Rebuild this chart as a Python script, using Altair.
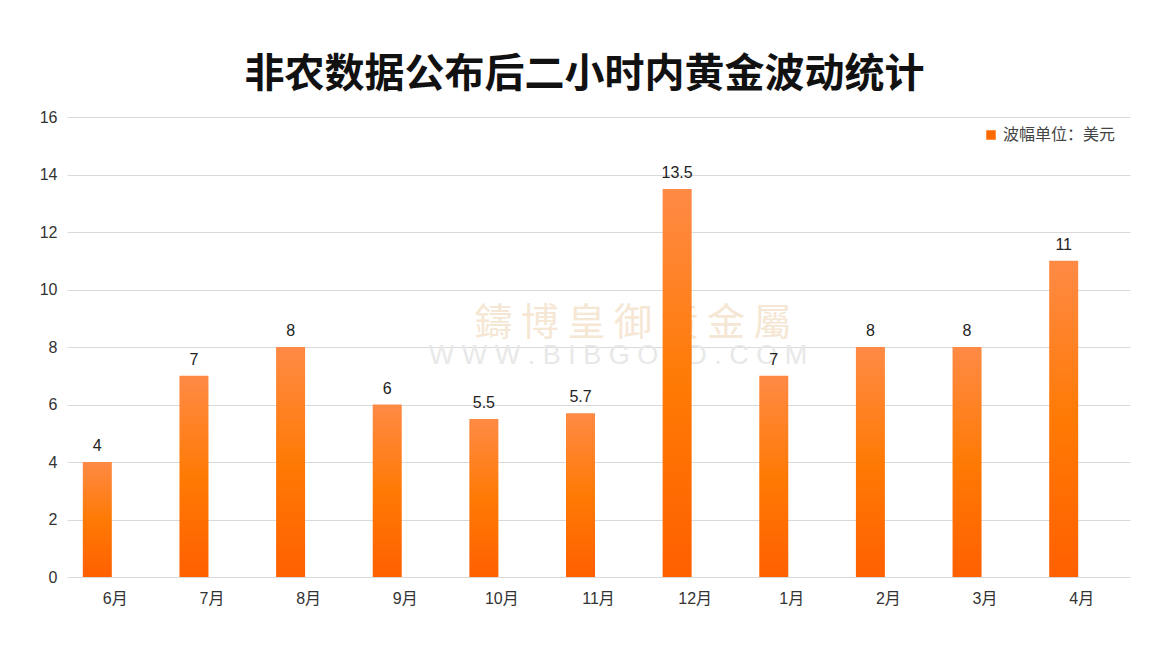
import altair as alt
import pandas as pd

months = ["6月", "7月", "8月", "9月", "10月", "11月", "12月", "1月", "2月", "3月", "4月"]
values = [4, 7, 8, 6, 5.5, 5.7, 13.5, 7, 8, 8, 11]
value_labels = ["4", "7", "8", "6", "5.5", "5.7", "13.5", "7", "8", "8", "11"]
series_name = "波幅单位：美元"
title_text = "非农数据公布后二小时内黄金波动统计"
wm_cn = "鑄  博  皇  御  黃  金  屬"
wm_en = "W W W . B I B G O L D . C O M"

df = pd.DataFrame({"month": months, "value": values, "label": value_labels})
legend_df = pd.DataFrame({"month": [months[0]], "value": [0], "series": [series_name]})
wm_df = pd.DataFrame({"t": [wm_cn]})
wm2_df = pd.DataFrame({"t": [wm_en]})

FONT = "Liberation Sans, Helvetica, Arial, Noto Sans CJK SC"

x = alt.X("month:N", sort=months, title=None,
          scale=alt.Scale(paddingInner=0, paddingOuter=0),
          axis=alt.Axis(labelAngle=0, ticks=False, domain=False, grid=False, labelPadding=13,
                        labelFontSize=16, labelColor="#333333", labelFont=FONT))
y = alt.Y("value:Q", title=None, scale=alt.Scale(domain=[0, 16]),
          axis=alt.Axis(values=list(range(0, 17, 2)), ticks=False, domain=False,
                        labelPadding=10, labelFontSize=16, labelColor="#333333",
                        labelFont=FONT, gridColor="#d9d9d9", gridWidth=1))

wm1 = alt.Chart(wm_df).mark_text(font="Noto Sans CJK TC", fontSize=38, color="#f5e7d4").encode(
    text="t:N", x=alt.value(566), y=alt.value(207))
wm2 = alt.Chart(wm2_df).mark_text(font=FONT, fontSize=27, color="#e8e8e8").encode(
    text="t:N", x=alt.value(551), y=alt.value(239))

bars = alt.Chart(df).mark_bar(
    width=29, xOffset=-18,
    color=alt.Gradient(gradient="linear", x1=0, y1=0, x2=0, y2=1,
                       stops=[alt.GradientStop(color="#ff8a45", offset=0),
                              alt.GradientStop(color="#ff7a05", offset=0.5),
                              alt.GradientStop(color="#ff6000", offset=1)])
).encode(x=x, y=y)

texts = alt.Chart(df).mark_text(dy=-16, xOffset=-18, fontSize=16, color="#222222",
                                font=FONT).encode(
    x=alt.X("month:N", sort=months), y="value:Q", text="label:N")

leg = alt.Chart(legend_df).mark_square(opacity=0).encode(
    x=alt.X("month:N", sort=months), y="value:Q",
    color=alt.Color("series:N", scale=alt.Scale(range=["#ff6a00"]),
                    legend=alt.Legend(title=None, orient="none", legendX=916, legendY=10,
                                      symbolType="square", symbolOpacity=1, symbolSize=90,
                                      symbolStrokeWidth=0, labelFontSize=16,
                                      labelColor="#444444", labelFont=FONT)))

chart = alt.layer(wm1, wm2, bars, texts, leg).properties(
    width=1063, height=460, background="white",
    title=alt.TitleParams(title_text, fontSize=40, font="Noto Sans CJK SC", fontWeight="bold",
                          color="#111111", anchor="middle", offset=14, dx=-14),
    padding={"left": 59, "top": 109, "right": 24, "bottom": 70},
    autosize=alt.AutoSizeParams(type="none"),
).configure_view(stroke=None)

chart.save("out.html", embed_options={"renderer": "svg", "actions": False})
